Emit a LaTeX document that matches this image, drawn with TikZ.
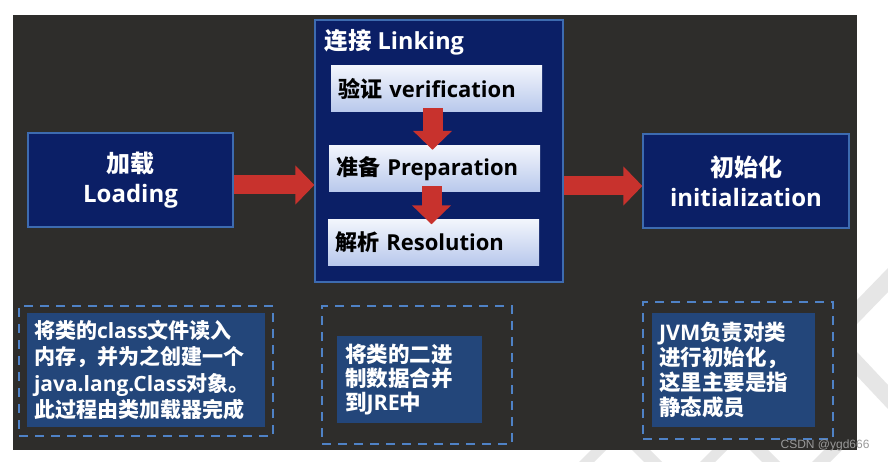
\documentclass[tikz,border=0pt]{standalone}
\usepackage{fontspec}
\setmainfont{Open Sans}
\newfontfamily\zhfont{Noto Sans CJK SC}
\newfontfamily\markfont{Liberation Sans}
\newcommand\zh[1]{{\zhfont #1}}
\usetikzlibrary{arrows.meta}

\definecolor{board}{HTML}{2E2D2B}
\definecolor{navyfill}{HTML}{0B1F66}
\definecolor{navyline}{HTML}{3D6BB0}
\definecolor{subtop}{HTML}{F2F5FC}
\definecolor{subbot}{HTML}{B8C8EC}
\definecolor{notefill}{HTML}{23467A}
\definecolor{dashblue}{HTML}{4F82C6}
\definecolor{arrowred}{HTML}{C8322D}
\definecolor{wm}{HTML}{E6E6E6}

\begin{document}
\begin{tikzpicture}[x=1pt, y=-1pt,
    darkbox/.style = {draw=navyline, line width=1.2pt, fill=navyfill, text=white, inner sep=0pt,
                      align=center, font=\bfseries\fontsize{24}{30}\selectfont},
    subbox/.style = {top color=subtop, bottom color=subbot, minimum width=211pt, minimum height=46pt,
                     inner xsep=7pt, text width=197pt, align=left, text=black,
                     font=\bfseries\fontsize{22}{26}\selectfont},
    notebox/.style = {fill=notefill, text=white, inner ysep=0pt, align=left,
                      font=\bfseries\fontsize{21}{26.5}\selectfont},
    dashframe/.style = {draw=dashblue, line width=1.3pt, dash pattern=on 9pt off 7pt, inner sep=0pt},
    bigarrow/.style = {draw=arrowred, line width=19pt, -{Triangle[length=19pt, width=38pt]}}]

% margins and watermark
\useasboundingbox (0,0) rectangle (888,462);
\fill[white] (0,0) rectangle (888,462);
\fill[wm] (857,300) -- (888,268) -- (888,292) -- (857,324) -- cycle;
\fill[wm] (857,352) -- (888,385) -- (888,409) -- (857,376) -- cycle;
\fill[wm] (579,462) -- (591,450) -- (606,450) -- (594,462) -- cycle;
\fill[wm] (632,450) -- (650,450) -- (662,462) -- (644,462) -- cycle;
\fill[wm] (700,462) -- (712,450) -- (727,450) -- (715,462) -- cycle;
\fill[wm] (750,450) -- (768,450) -- (780,462) -- (762,462) -- cycle;
\fill[wm] (812,462) -- (824,450) -- (842,450) -- (830,462) -- cycle;

% board
\fill[board] (13,15) rectangle (857,450);

% top row
\node[darkbox, minimum width=205pt, minimum height=94pt] (load) at (130.5,180) {\zh{加载}\\Loading};
\node[darkbox, minimum width=248pt, minimum height=262pt] (link) at (439,151) {};
\node[anchor=west, text=white, font=\bfseries\fontsize{23.5}{28}\selectfont] (linktitle) at (321,42) {\zh{连接} Linking};
\node[subbox] (verif) at (436.5,89) {\zh{验证} verification};
\node[subbox] (prep) at (434.5,169) {\zh{准备} Preparation};
\node[subbox] (res) at (433.5,242.5) {\zh{解析} Resolution};
\node[darkbox, minimum width=206pt, minimum height=94pt] (init) at (746,181) {\zh{初始化}\\initialization};

% arrows
\draw[bigarrow] ([yshift=-5pt]load.east) -- ([yshift=-5pt]load.east -| link.west);
\draw[bigarrow] ([yshift=-5pt]init.west -| link.east) -- ([yshift=-5pt]init.west);
\draw[bigarrow, line width=20pt, shorten <=-4pt, shorten >=-4pt] ([xshift=-4pt]verif.south) -- ([xshift=-4pt]verif.south |- prep.north);
\draw[bigarrow, line width=20pt, shorten <=-6pt, shorten >=-5pt] ([xshift=-3pt]prep.south) -- ([xshift=-3pt]prep.south |- res.north);

% notes
\node[dashframe, minimum width=254pt, minimum height=130pt] (loadframe) at (146,371) {};
\node[notebox, minimum width=238pt, minimum height=114pt, inner xsep=7pt, text width=224pt] (loadnote) at (146,370)
  {\zh{将类的}class\zh{文件读入}\\\zh{内存，并为之创建一个}\\java.lang.Class\zh{对象。}\\\zh{此过程由类加载器完成}};
\node[dashframe, minimum width=190pt, minimum height=138pt] (linkframe) at (417,375) {};
\node[notebox, minimum width=145pt, minimum height=87pt, inner xsep=8pt, text width=129pt,
      font=\bfseries\fontsize{21.5}{24}\selectfont] (linknote) at (409.5,379.5)
  {\zh{将类的二进}\\\zh{制数据合并}\\\zh{到}JRE\zh{中}};
\node[dashframe, minimum width=190pt, minimum height=137pt] (initframe) at (738,370.5) {};
\node[notebox, minimum width=163pt, minimum height=114pt, inner xsep=7pt, text width=149pt,
      font=\bfseries\fontsize{21.5}{25.3}\selectfont] (initnote) at (733.5,370)
  {JVM\zh{负责对类}\\\zh{进行初始化，}\\\zh{这里主要是指}\\\zh{静态成员}};

\node[anchor=east, text=black!40, font=\markfont\fontsize{12}{12}\selectfont] (mark) at (873,445) {CSDN @ygd666};
\end{tikzpicture}
\end{document}
